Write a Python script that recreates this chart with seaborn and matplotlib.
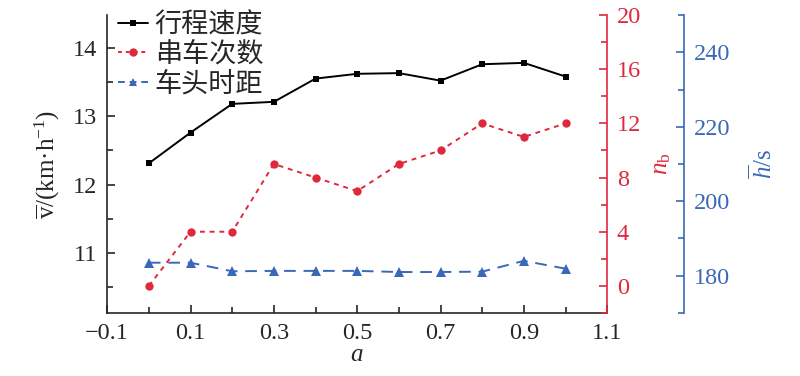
import numpy as np
import pandas as pd
import matplotlib
matplotlib.use("Agg")
import matplotlib.pyplot as plt
import seaborn as sns
from matplotlib.ticker import MultipleLocator
from matplotlib.lines import Line2D

# data
a_vals = [0.0, 0.1, 0.2, 0.3, 0.4, 0.5, 0.6, 0.7, 0.8, 0.9, 1.0]
speed = [12.31, 12.76, 13.18, 13.21, 13.55, 13.62, 13.63, 13.52, 13.76, 13.78, 13.58]
bunching = [0, 4, 4, 9, 8, 7, 9, 10, 12, 11, 12]
headway = [183.5, 183.5, 181.2, 181.3, 181.3, 181.3, 181.0, 181.0, 181.1, 184.0, 181.9]
labels = ['行程速度', '串车次数', '车头时距']

df = pd.DataFrame({'a': a_vals, 'speed': speed, 'nb': bunching, 'h': headway})

sns.set_style('ticks')
plt.rcParams['font.family'] = ['Liberation Serif', 'Noto Sans CJK SC']
plt.rcParams['mathtext.fontset'] = 'custom'
plt.rcParams['mathtext.rm'] = 'Liberation Serif'
plt.rcParams['mathtext.it'] = 'Liberation Serif:italic'
plt.rcParams['font.size'] = 17

red = '#e0283c'
blue = '#3a68b8'
fs = 17.5

fig = plt.figure(figsize=(8, 3.76), dpi=100)
ax = fig.add_axes([0.134, 0.1676, 0.625, 0.7924])
ax2 = ax.twinx()
ax3 = ax.twinx()

sns.lineplot(data=df, x='a', y='speed', ax=ax, color='black', marker='s',
             markersize=5, markeredgewidth=0, linewidth=1.4)
sns.lineplot(data=df, x='a', y='nb', ax=ax2, color=red, marker='o',
             markersize=6, markeredgewidth=0, linewidth=1.4)
ax2.lines[0].set_linestyle((0, (2.5, 2.5)))
sns.lineplot(data=df, x='a', y='h', ax=ax3, color=blue, marker='^',
             markersize=6.5, markeredgewidth=0, linewidth=1.4)
ax3.lines[0].set_linestyle((0, (6, 4)))

ax.set_xlim(-0.1, 1.1)
ax.set_ylim(10.12, 14.48)
ax2.set_ylim(-2, 20)
ax3.set_ylim(170, 250)

ax.set_xticks([-0.1, 0.1, 0.3, 0.5, 0.7, 0.9, 1.1])
ax.set_xticklabels(['\u22120.1', '0.1', '0.3', '0.5', '0.7', '0.9', '1.1'])
ax.xaxis.set_minor_locator(MultipleLocator(0.1))
ax.set_yticks([11, 12, 13, 14])
ax.yaxis.set_minor_locator(MultipleLocator(0.5))
ax2.set_yticks([0, 4, 8, 12, 16, 20])
ax2.yaxis.set_minor_locator(MultipleLocator(2))
ax3.set_yticks([180, 200, 220, 240])
ax3.yaxis.set_minor_locator(MultipleLocator(10))

for a in (ax, ax2, ax3):
    a.spines['top'].set_visible(False)
    a.tick_params(which='both', direction='in', width=1.2, labelsize=fs, pad=7)
    a.tick_params(which='major', length=6)
    a.tick_params(which='minor', length=4)

ax.spines['right'].set_visible(False)
ax.spines['left'].set_linewidth(1.2)
ax.spines['bottom'].set_linewidth(1.2)

ax2.spines['left'].set_visible(False)
ax2.spines['bottom'].set_visible(False)
ax2.spines['right'].set_color(red)
ax2.spines['right'].set_linewidth(1.2)
ax2.tick_params(axis='y', which='both', colors=red)

ax3.spines['left'].set_visible(False)
ax3.spines['bottom'].set_visible(False)
ax3.spines['right'].set_position(('axes', 1.154))
ax3.spines['right'].set_color(blue)
ax3.spines['right'].set_linewidth(1.2)
ax3.tick_params(axis='y', which='both', colors=blue)

ax.set_xlabel('$a$', fontsize=18, labelpad=0)
ax.set_ylabel(r'$\overline{\mathrm{v}}$/(km·h$^{-1}$)', fontsize=18, labelpad=8)
ax2.set_ylabel(r'$n_{\mathrm{b}}$', fontsize=18, color=red, labelpad=7)
ax3.set_ylabel(r'$\overline{h}$/s', fontsize=18, color=blue, labelpad=13)

handles = [
    Line2D([], [], color='black', marker='s', markersize=5, markeredgewidth=0, linewidth=1.4),
    Line2D([], [], color=red, marker='o', markersize=6, markeredgewidth=0, linewidth=1.4,
           linestyle=(0, (2, 2))),
    Line2D([], [], color=blue, marker='^', markersize=6, markeredgewidth=0, linewidth=1.4,
           linestyle=(0, (3.5, 2.5))),
]
leg = ax.legend(handles, labels, loc='upper left', bbox_to_anchor=(0.022, 1.013),
                frameon=False, handlelength=1.1, handletextpad=0.25, labelspacing=0.1,
                borderpad=0, borderaxespad=0,
                prop={'family': ['Noto Sans CJK SC'], 'size': 19.5})

fig.savefig('out.png', dpi=100)
